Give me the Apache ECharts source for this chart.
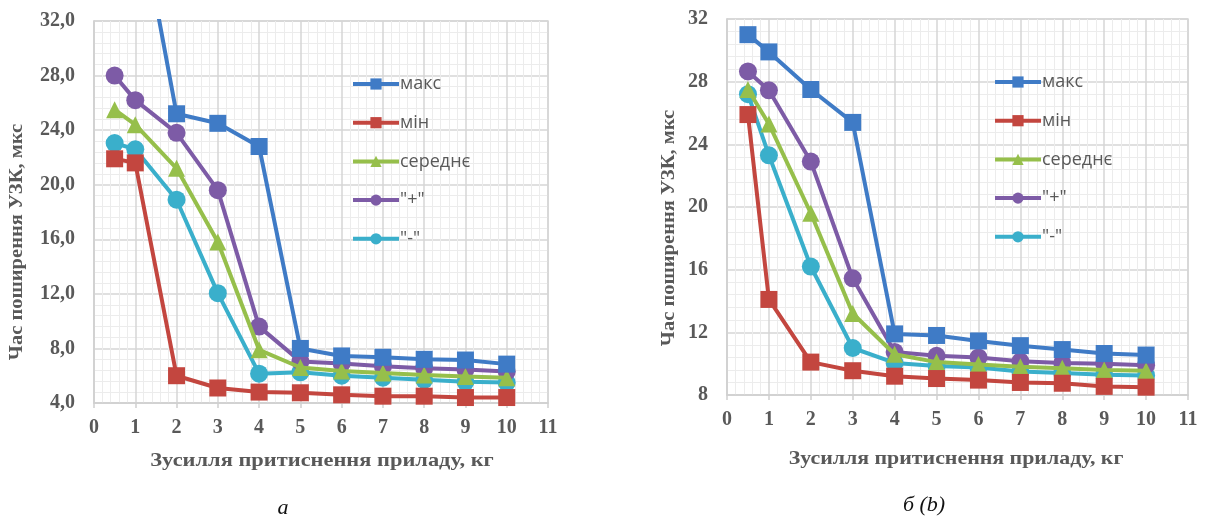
<!DOCTYPE html>
<html>
<head>
<meta charset="utf-8">
<script src="https://cdn.jsdelivr.net/npm/echarts@6/dist/echarts.min.js"></script>
<style>
  html, body { margin: 0; padding: 0; background: #fff; }
  #chart { width: 1205px; height: 521px; }
</style>
</head>
<body>
<div id="chart"></div>
<script>
// Pressing force of the device, kg
const forces = [0.5, 1, 2, 3, 4, 5, 6, 7, 8, 9, 10];

const seriesNames = ['макс', 'мін', 'середнє', '"+"', '"-"'];

// Panel (a): ultrasonic propagation time, µs
const aMax  = [44.0, 41.5, 25.2, 24.5, 22.8, 8.0, 7.45, 7.35, 7.2, 7.15, 6.85];
const aMin  = [21.9, 21.6, 6.0, 5.1, 4.8, 4.75, 4.6, 4.5, 4.5, 4.4, 4.4];
const aMean = [25.5, 24.4, 21.2, 15.8, 7.9, 6.6, 6.35, 6.2, 6.05, 5.95, 5.85];
const aPlus = [28.0, 26.2, 23.8, 19.6, 9.6, 7.05, 6.9, 6.7, 6.55, 6.45, 6.3];
const aMinus = [23.05, 22.6, 18.9, 12.05, 6.15, 6.25, 6.0, 5.85, 5.7, 5.55, 5.5];

// Panel (б): ultrasonic propagation time, µs
const bMax  = [31.0, 29.9, 27.5, 25.4, 11.9, 11.8, 11.45, 11.15, 10.9, 10.65, 10.55];
const bMin  = [25.9, 14.1, 10.1, 9.55, 9.2, 9.05, 8.95, 8.8, 8.75, 8.55, 8.5];
const bMean = [27.5, 25.3, 19.6, 13.2, 10.6, 10.1, 9.95, 9.8, 9.7, 9.6, 9.55];
const bPlus = [28.65, 27.45, 22.9, 15.45, 10.75, 10.5, 10.4, 10.15, 10.05, 10.0, 9.9];
const bMinus = [27.2, 23.3, 16.2, 11.0, 10.05, 9.85, 9.75, 9.5, 9.4, 9.3, 9.25];

// Tick labels
const xTicks = ['0', '1', '2', '3', '4', '5', '6', '7', '8', '9', '10', '11'];
const yTicksA = ['4,0', '8,0', '12,0', '16,0', '20,0', '24,0', '28,0', '32,0'];
const yTicksB = ['8', '12', '16', '20', '24', '28', '32'];

const colors = ['#3F7BC6', '#C3463F', '#96BF4B', '#7D5BA6', '#3AAFCB'];
const symbols = ['rect', 'rect', 'triangle', 'circle', 'circle'];
const symbolSizes = [17, 17, 17, 18, 18];

const serif = '"Liberation Serif", "Times New Roman", serif';

const axisLabelFont = {
  fontFamily: serif,
  fontWeight: 'bold',
  fontSize: 20,
  color: '#595959'
};

function xAxisFor(gridIndex) {
  return {
    type: 'value', gridIndex: gridIndex, min: 0, max: 11, interval: 1,
    axisLine: { show: true, lineStyle: { color: '#d0d0d0', width: 1.5 } },
    axisTick: { show: true, length: 5, lineStyle: { color: '#d0d0d0', width: 1.5 } },
    axisLabel: Object.assign({ margin: 15, formatter: v => xTicks[Math.round(v)] }, axisLabelFont),
    splitLine: { show: true, lineStyle: { color: '#d6d6d6', width: 1.5 } },
    minorTick: { show: false, splitNumber: 5 },
    minorSplitLine: { show: true, lineStyle: { color: '#ececec', width: 1 } }
  };
}

function yAxisFor(gridIndex, min, max, labels) {
  return {
    type: 'value', gridIndex: gridIndex, min: min, max: max, interval: 4,
    axisLine: { show: true, lineStyle: { color: '#d0d0d0', width: 1.5 } },
    axisTick: { show: false },
    axisLabel: Object.assign({
      margin: 19,
      formatter: v => labels[Math.round((v - min) / 4)]
    }, axisLabelFont),
    splitLine: { show: true, lineStyle: { color: '#d6d6d6', width: 1.5 } },
    minorTick: { show: false, splitNumber: 5 },
    minorSplitLine: { show: true, lineStyle: { color: '#ececec', width: 1 } }
  };
}

function buildSeries(arrays, gridIndex) {
  return arrays.map((vals, i) => ({
    name: seriesNames[i],
    type: 'line',
    xAxisIndex: gridIndex,
    yAxisIndex: gridIndex,
    data: forces.map((f, k) => [f, vals[k]]),
    symbol: symbols[i],
    symbolSize: symbolSizes[i],
    showAllSymbol: true,
    clip: true,
    lineStyle: { color: colors[i], width: 4 },
    itemStyle: { color: colors[i] },
    z: 10 - i
  }));
}

function legendFor(left, top) {
  return {
    orient: 'vertical', left: left, top: top, padding: 0,
    itemWidth: 46, itemHeight: 14, itemGap: 20.7,
    data: seriesNames,
    selectedMode: false,
    lineStyle: { width: 4 },
    textStyle: {
      fontFamily: '"Open Sans", "Noto Sans", sans-serif',
      fontSize: 18, color: '#595959', padding: [0, 0, 0, -4], lineHeight: 14
    }
  };
}

const titleFont = {
  fontFamily: serif,
  fontWeight: 'bold', fontSize: 19, fill: '#595959'
};

const chart = echarts.init(document.getElementById('chart'), null, { renderer: 'canvas' });
chart.setOption({
  animation: false,
  backgroundColor: '#ffffff',
  grid: [
    { left: 94, top: 21, width: 454, height: 382, show: true, borderColor: '#d6d6d6', borderWidth: 1.5, containLabel: false },
    { left: 727, top: 19, width: 461, height: 376, show: true, borderColor: '#d6d6d6', borderWidth: 1.5, containLabel: false }
  ],
  xAxis: [xAxisFor(0), xAxisFor(1)],
  yAxis: [yAxisFor(0, 4, 32, yTicksA), yAxisFor(1, 8, 32, yTicksB)],
  legend: [legendFor(351, 75), legendFor(993, 73)],
  series: buildSeries([aMax, aMin, aMean, aPlus, aMinus], 0)
    .concat(buildSeries([bMax, bMin, bMean, bPlus, bMinus], 1)),
  graphic: [
    { type: 'text', x: 322, y: 461, scaleX: 1.18, style: Object.assign({ text: 'Зусилля притиснення приладу, кг', align: 'center', verticalAlign: 'middle' }, titleFont) },
    { type: 'text', x: 956, y: 459, scaleX: 1.15, style: Object.assign({ text: 'Зусилля притиснення приладу, кг', align: 'center', verticalAlign: 'middle' }, titleFont) },
    { type: 'text', x: 17, y: 242, rotation: Math.PI / 2, scaleX: 1.08, style: Object.assign({ text: 'Час поширення УЗК, мкс', align: 'center', verticalAlign: 'middle' }, titleFont) },
    { type: 'text', x: 669, y: 228, rotation: Math.PI / 2, scaleX: 1.08, style: Object.assign({ text: 'Час поширення УЗК, мкс', align: 'center', verticalAlign: 'middle' }, titleFont) },
    { type: 'text', x: 283, y: 508, style: { text: 'а', align: 'center', verticalAlign: 'middle', fontFamily: serif, fontStyle: 'italic', fontSize: 22, fill: '#111' } },
    { type: 'text', x: 924, y: 505, style: { text: 'б (b)', align: 'center', verticalAlign: 'middle', fontFamily: serif, fontStyle: 'italic', fontSize: 22, fill: '#111' } }
  ]
});
</script>
</body>
</html>
